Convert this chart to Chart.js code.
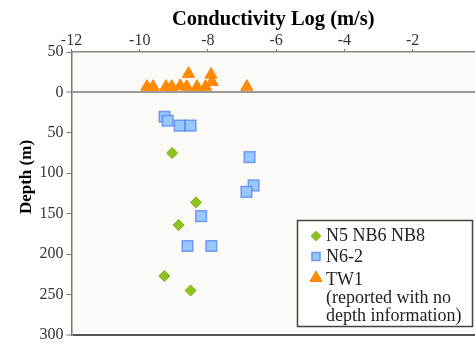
<!DOCTYPE html>
<html><head><meta charset="utf-8">
<script src="https://cdn.jsdelivr.net/npm/chart.js@4/dist/chart.umd.min.js"></script>
<style>html,body{margin:0;padding:0;background:#fff;overflow:hidden}#wrap{width:475px;height:344px;position:relative}</style>
</head><body><div id="wrap"><canvas id="c" width="475" height="344"></canvas></div>
<script>
const xTitle = 'Conductivity Log (m/s)';
const yTitle = 'Depth (m)';
const xTickValues = [-12, -10, -8, -6, -4, -2];
const yTickValues = [-50, 0, 50, 100, 150, 200, 250, 300];

const n5Label = 'N5 NB6 NB8';
const n5Cond  = [-9.05, -8.35, -8.86, -9.28, -8.51];
const n5Depth = [75, 136, 164, 227, 245];

const n6Label = 'N6-2';
const n6Cond  = [-9.27, -9.18, -8.83, -8.51, -6.78, -6.66, -6.87, -8.20, -8.60, -7.90];
const n6Depth = [30, 35, 41, 41, 80, 115, 123, 153, 190, 190];

const tw1Label = 'TW1';
const tw1Note  = ['(reported with no', 'depth information)'];
const tw1Cond  = [-9.79, -9.61, -9.23, -9.06, -8.81, -8.62, -8.57, -8.32, -8.07, -7.91, -7.88, -6.86];
const tw1Depth = [-7, -7, -7, -7, -8, -7, -23, -7, -7, -22, -13, -7];

const SERIF = '"Liberation Serif", "Times New Roman", serif';
const pts = (xs, ys) => xs.map((x, i) => ({x: x, y: ys[i]}));

const styles = [
  {pointStyle: 'rectRot', radius: 5.5, bg: '#8dc21f', border: '#7db01a', bw: 1, lr: 4.8},
  {pointStyle: 'rect', radius: 7.5, bg: '#99c8ff', border: 'rgba(80,130,240,0.75)', bw: 1.5, lr: 5.8},
  {pointStyle: 'triangle', radius: 7, bg: '#ff8c00', border: '#ff8000', bw: 1, lr: 7}
];

const bgPlugin = {
  id: 'bg',
  beforeDraw(chart) {
    const {ctx, chartArea: a} = chart;
    ctx.save();
    ctx.fillStyle = '#fcfaf6';
    ctx.fillRect(a.left, a.top, a.right - a.left, a.bottom - a.top);
    ctx.restore();
  }
};

const extrasPlugin = {
  id: 'extras',
  afterDraw(chart) {
    const ctx = chart.ctx;
    // y axis title
    ctx.save();
    ctx.translate(27, 177);
    ctx.rotate(-Math.PI / 2);
    ctx.font = 'bold 17px ' + SERIF;
    ctx.fillStyle = '#000';
    ctx.textAlign = 'center';
    ctx.textBaseline = 'middle';
    ctx.fillText(yTitle, 0, 0);
    ctx.restore();
    // legend
    ctx.save();
    ctx.fillStyle = '#ffffff';
    ctx.fillRect(297.5, 220.5, 175, 106);
    ctx.strokeStyle = '#444';
    ctx.lineWidth = 1.5;
    ctx.strokeRect(297.5, 220.5, 175, 106);
    const items = [
      {label: n5Label, y: 236, s: styles[0]},
      {label: n6Label, y: 256.5, s: styles[1]},
      {label: tw1Label, y: 278, s: styles[2]}
    ];
    const textY = [236, 257, 280];
    items.forEach((it, i) => {
      ctx.fillStyle = it.s.bg;
      ctx.strokeStyle = it.s.border;
      ctx.lineWidth = it.s.bw;
      Chart.helpers.drawPoint(ctx, {pointStyle: it.s.pointStyle, radius: it.s.lr, borderWidth: it.s.bw, rotation: 0}, 316, it.y);
      ctx.fillStyle = '#222';
      ctx.font = '18px ' + SERIF;
      ctx.textAlign = 'left';
      ctx.textBaseline = 'middle';
      ctx.fillText(it.label, 326, textY[i]);
    });
    tw1Note.forEach((t, i) => {
      ctx.fillText(t, 326, 298 + i * 18);
    });
    ctx.restore();
  }
};

new Chart(document.getElementById('c'), {
  type: 'scatter',
  data: {
    datasets: [
      {label: n5Label, data: pts(n5Cond, n5Depth), pointStyle: styles[0].pointStyle, pointRadius: styles[0].radius,
       backgroundColor: styles[0].bg, borderColor: styles[0].border, borderWidth: styles[0].bw},
      {label: n6Label, data: pts(n6Cond, n6Depth), pointStyle: styles[1].pointStyle, pointRadius: styles[1].radius,
       backgroundColor: styles[1].bg, borderColor: styles[1].border, borderWidth: styles[1].bw},
      {label: tw1Label, data: pts(tw1Cond, tw1Depth), pointStyle: styles[2].pointStyle, pointRadius: styles[2].radius,
       backgroundColor: styles[2].bg, borderColor: styles[2].border, borderWidth: styles[2].bw}
    ]
  },
  options: {
    responsive: false,
    devicePixelRatio: 1,
    animation: false,
    layout: {autoPadding: false, padding: {left: 0, top: 0, right: 0, bottom: 9}},
    plugins: {legend: {display: false}, tooltip: {enabled: false}},
    scales: {
      x: {
        type: 'linear', position: 'top', min: -12, max: -0.17,
        afterBuildTicks: s => { s.ticks = xTickValues.map(v => ({value: v})); },
        afterFit: s => { s.height = 52; s.paddingLeft = 0; s.paddingRight = 0; },
        ticks: {font: {family: SERIF, size: 16, lineHeight: 1}, color: '#333', padding: 0.5, maxRotation: 0, autoSkip: false},
        grid: {drawOnChartArea: false, tickLength: 3, tickColor: '#777', tickWidth: 1},
        border: {color: '#888', width: 1.5},
        title: {display: true, text: xTitle, color: '#000', font: {family: SERIF, size: 20.5, weight: 'bold'}, padding: {top: 7, bottom: 0}}
      },
      y: {
        type: 'linear', reverse: true, min: -50, max: 300,
        afterBuildTicks: s => { s.ticks = yTickValues.map(v => ({value: v})); },
        afterFit: s => { s.width = 71.5; s.paddingTop = 0; s.paddingBottom = 0; },
        ticks: {font: {family: SERIF, size: 16, lineHeight: 1.125}, color: '#333', padding: 3, autoSkip: false,
                callback: v => String(Math.abs(v))},
        grid: {
          drawOnChartArea: true, tickLength: 5, tickColor: '#777', tickWidth: 1,
          color: c => (c.tick && c.tick.value === 0) ? '#9a9a9a' : (c.tick && c.tick.value === 300) ? '#555' : 'rgba(0,0,0,0)',
          lineWidth: c => (c.tick && (c.tick.value === 0 || c.tick.value === 300)) ? 2 : 1
        },
        border: {color: '#777', width: 1.5}
      }
    }
  },
  plugins: [bgPlugin, extrasPlugin]
});
</script>
</body></html>
